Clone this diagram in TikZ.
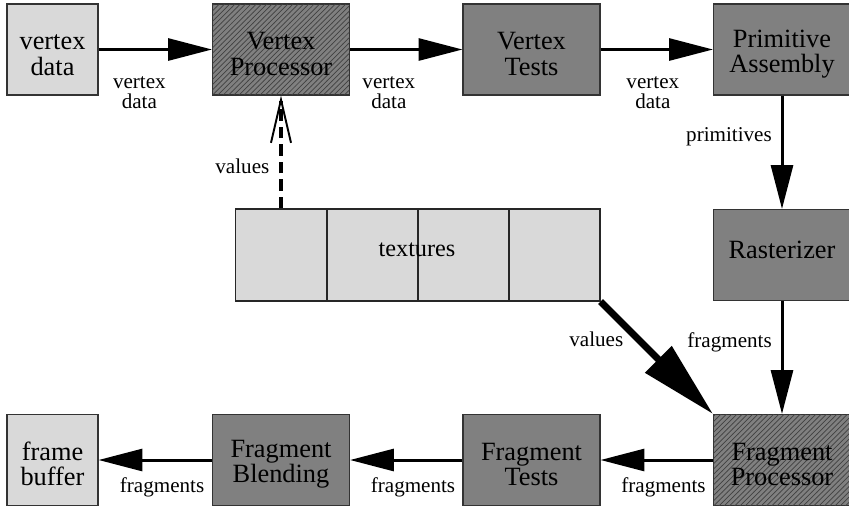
\documentclass[tikz,border=0pt]{standalone}
\usepackage{fontspec}
\setmainfont{Liberation Serif}
\usetikzlibrary{arrows.meta,patterns,positioning}

% struts to place box texts inside their boxes
\newcommand\topgap{\rule{0pt}{15pt}}
\newcommand\lowgap{\rule[-6.3pt]{0pt}{0pt}}

\tikzset{
  stage/.style={draw=black!80, line width=0.6pt, fill=black!50,
    minimum width=2.74cm, minimum height=1.82cm, inner sep=0pt,
    align=center, font=\fontsize{15}{14.3}\selectfont},
  store/.style={stage, fill=black!15, minimum width=1.82cm},
  shader/.style={stage, postaction={pattern=north east lines, pattern color=black!75}},
  cell/.style={draw=black!85, line width=0.6pt, fill=black!15,
    minimum width=1.82cm, minimum height=1.84cm, inner sep=0pt},
  lbl/.style={font=\fontsize{12}{11.5}\selectfont, align=center, inner sep=1pt},
  flow/.style={line width=1.7pt, -{Triangle[length=25pt,width=12.5pt]}},
  bigflow/.style={line width=4pt, -{Triangle[length=44pt,width=20.5pt]}},
  fetch/.style={line width=1.9pt, dash pattern=on 6.5pt off 3.5pt,
    -{Straight Barb[length=24.5pt,width=11.4pt,line width=1.1pt]}}
}

\begin{document}
\begin{tikzpicture}[x=0.02cm,y=-0.02cm]
  \useasboundingbox (0,0) rectangle (849,508);

  % vertex side
  \node[store]  (vdata) at (52.5,49.5) {\topgap vertex\\data};
  \node[shader] (vproc) at (281,49.5)  {\topgap Vertex\\Processor};
  \node[stage]  (vtest) at (531.5,49.5) {\topgap Vertex\\Tests};
  \node[stage]  (prim)  at (782,49.5)  {\topgap Primitive\\Assembly};

  % right column
  \node[stage]  (rast)  at (782,255) {Rasterizer\lowgap};
  \node[shader] (fproc) at (782,460) {\topgap Fragment\\Processor};

  % fragment side
  \node[stage]  (ftest) at (531.5,460) {\topgap Fragment\\Tests};
  \node[stage]  (blend) at (281,460)   {\topgap Fragment\\Blending};
  \node[store]  (fbuf)  at (52.5,460)  {\topgap frame\\buffer};

  % texture memory
  \foreach \i/\x in {1/281,2/372.5,3/463.5,4/554.5}
    \node[cell] (tex\i) at (\x,255) {};
  \node[font=\fontsize{13.8}{14}\selectfont, inner sep=0pt] (texlabel) at (417,250) {textures};

  % data flow
  \draw[flow] (vdata) -- node[lbl,pos=.36,below=13.5pt]{vertex\\data} (vproc);
  \draw[flow] (vproc) -- node[lbl,pos=.345,below=13.5pt]{vertex\\data} (vtest);
  \draw[flow] (vtest) -- node[lbl,pos=.465,below=13.5pt]{vertex\\data} (prim);
  \draw[flow] (prim) -- node[lbl,pos=.365,left=4pt]{primitives} (rast);
  \draw[flow] (rast) -- node[lbl,pos=.365,left=4pt]{fragments} (fproc);
  \draw[flow] (fproc) -- node[lbl,pos=.44,below=8pt]{fragments} (ftest);
  \draw[flow] (ftest) -- node[lbl,pos=.44,below=8pt]{fragments} (blend);
  \draw[flow] (blend) -- node[lbl,pos=.44,below=8pt]{fragments} (fbuf);

  % texture lookups
  \draw[fetch] (tex1.north) -- node[lbl,pos=.37,left=4.7pt]{values} (vproc.south);
  \draw[bigflow] (tex4.south east) -- node[lbl,pos=.34,left=5.8pt]{values} (fproc.north west);
\end{tikzpicture}
\end{document}
